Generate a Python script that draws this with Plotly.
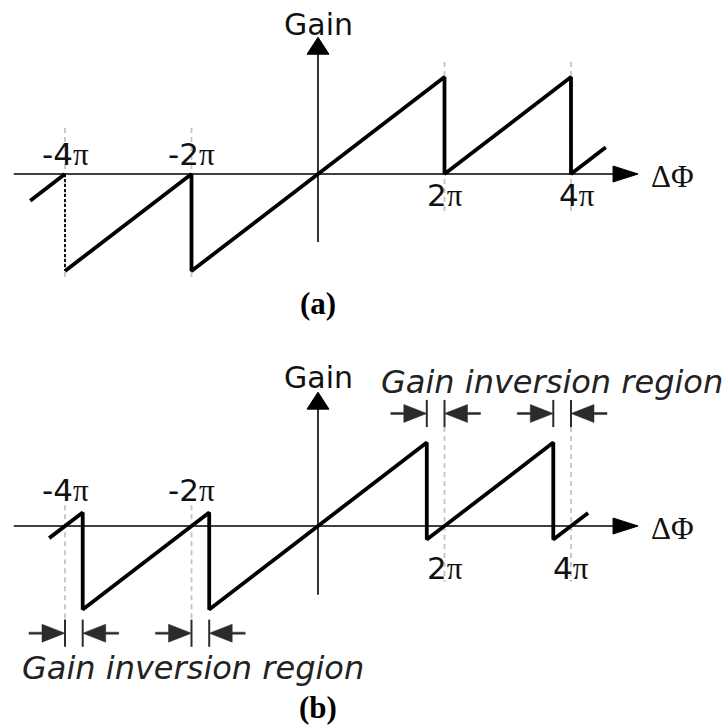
import plotly.graph_objects as go

# ---- sawtooth gain curves (ΔΦ in units of π, gain in the same units) ----
# (a) ideal wrap at multiples of 2π
phi_a_left = [-4.55, -4.0]
gain_a_left = [-0.55, 0.0]
phi_a_main = [-4.0, -2.0, -2.0, 2.0, 2.0, 4.0, 4.0, 4.55]
gain_a_main = [-2.0, 0.0, -2.0, 2.0, 0.0, 2.0, 0.0, 0.55]
phi_a_drop = [-4.0, -4.0]
gain_a_drop = [0.0, -2.0]

# (b) wrap displaced by the gain inversion region
phi_b = [-4.25, -3.72, -3.72, -1.72, -1.72, 1.72, 1.72, 3.72, 3.72, 4.27]
gain_b = [-0.25, 0.28, -1.72, 0.28, -1.72, 1.72, -0.28, 1.72, -0.28, 0.27]

tick_vals = [-4, -2, 2, 4]
tick_text = ["-4", "-2", "2", "4"]

# inversion-region boundaries: (left edge, right edge)
inv_top = [(1.72, 2.0), (3.72, 4.0)]
inv_bottom = [(-4.0, -3.72), (-2.0, -1.72)]

# ---- geometry of the canvas ----
W, H = 723, 727
X0_PX = 318.0
SX = 63.25          # px per unit along ΔΦ
SY = 48.5           # px per unit of gain
YA_PX = 174.0       # baseline of panel (a)
YB_PX = 526.0       # baseline of panel (b)

x_range = [-X0_PX / SX, (W - X0_PX) / SX]
ya_range = [-(H - YA_PX) / SY, YA_PX / SY]
yb_range = [-(H - YB_PX) / SY, YB_PX / SY]

BLACK = "#000000"
DARK = "#2b2b2b"
GRAY = "#c4c4c4"
FONT = "DejaVu Sans"
SERIF = "Liberation Serif"

fig = go.Figure()

line_style = dict(color=BLACK, width=3.8)
fig.add_trace(go.Scatter(x=phi_a_left, y=gain_a_left, mode="lines", line=line_style,
                         xaxis="x", yaxis="y", hoverinfo="skip"))
fig.add_trace(go.Scatter(x=phi_a_main, y=gain_a_main, mode="lines", line=line_style,
                         xaxis="x", yaxis="y", hoverinfo="skip"))
fig.add_trace(go.Scatter(x=phi_a_drop, y=gain_a_drop, mode="lines",
                         line=dict(color=BLACK, width=1.8, dash="3px,2px"),
                         xaxis="x", yaxis="y", hoverinfo="skip"))
fig.add_trace(go.Scatter(x=phi_b, y=gain_b, mode="lines", line=line_style,
                         xaxis="x", yaxis="y2", hoverinfo="skip"))

shapes = []
annotations = []


def vline(x, y0, y1, yref):
    shapes.append(dict(type="line", xref="x", yref=yref, x0=x, x1=x, y0=y0, y1=y1,
                       line=dict(color=GRAY, width=1.8, dash="5px,4px"), layer="below"))


def tick_label(v, t, yref, yshift, xshift=0):
    annotations.append(dict(
        x=v, y=0, xref="x", yref=yref, showarrow=False,
        text=t + '<span style="font-family:Liberation Serif">π</span>',
        xanchor="center", yanchor="middle", yshift=yshift, xshift=xshift,
        font=dict(family=FONT, size=31, color="#111111")))


def axes(yref, x_tip, y_tip, x_start, y_bottom, gain_y):
    # horizontal ΔΦ axis with arrowhead
    shapes.append(dict(type="line", xref="x", yref=yref, x0=x_start, x1=x_tip - 14 / SX,
                       y0=0, y1=0, line=dict(color=BLACK, width=1.6)))
    shapes.append(dict(type="path", xref="x", yref=yref, xsizemode="pixel", ysizemode="pixel",
                       xanchor=x_tip, yanchor=0, path="M0,0 L-25,8 L-25,-8 Z",
                       fillcolor=BLACK, line=dict(color=BLACK, width=1)))
    # vertical Gain axis with arrowhead
    shapes.append(dict(type="line", xref="x", yref=yref, x0=0, x1=0,
                       y0=y_bottom, y1=y_tip - 10 / SY, line=dict(color=BLACK, width=1.6)))
    shapes.append(dict(type="path", xref="x", yref=yref, xsizemode="pixel", ysizemode="pixel",
                       xanchor=0, yanchor=y_tip, path="M0,0 L-11,-17 L11,-17 Z",
                       fillcolor=BLACK, line=dict(color=BLACK, width=1)))
    annotations.append(dict(x=x_tip, y=0, xref="x", yref=yref, text="ΔΦ", showarrow=False,
                            xanchor="left", yanchor="middle", xshift=11, yshift=-2,
                            font=dict(family=SERIF, size=31, color="#111111")))
    annotations.append(dict(x=0, y=gain_y, xref="x", yref=yref, text="Gain", showarrow=False,
                            xanchor="center", yanchor="middle",
                            font=dict(family=FONT, size=30, color="#111111")))


# ---- panel (a) ----
axes("y", 5.06, 2.82, -4.81, -1.40, 3.09)
for v in (-4, -2):
    vline(v, 0.95, -2.19, "y")
for v in (2, 4):
    vline(v, 2.31, -0.80, "y")
for v, t in zip(tick_vals, tick_text):
    if v < 0:
        tick_label(v, t, "y", 20)
    else:
        tick_label(v, t, "y", -21, xshift=6 if v == 4 else 0)
annotations.append(dict(x=0, y=-2.68, xref="x", yref="y", text="<b>(a)</b>", showarrow=False,
                        xanchor="center", yanchor="middle",
                        font=dict(family=SERIF, size=31, color=BLACK)))

# ---- panel (b) ----
axes("y2", 5.06, 2.76, -4.81, -1.42, 3.07)

ARROW_IN_R = "M-36,-1 L-23,-1 L-23,-9 L0,0 L-23,9 L-23,1 L-36,1 Z"
ARROW_IN_L = "M36,-1 L23,-1 L23,-9 L0,0 L23,9 L23,1 L36,1 Z"


def inversion_marks(x_left, x_right, y_mid, half):
    for xx in (x_left, x_right):
        shapes.append(dict(type="line", xref="x", yref="y2", x0=xx, x1=xx,
                           y0=y_mid - half, y1=y_mid + half,
                           line=dict(color=DARK, width=2)))
    shapes.append(dict(type="path", xref="x", yref="y2", xsizemode="pixel", ysizemode="pixel",
                       xanchor=x_left, yanchor=y_mid, path=ARROW_IN_R,
                       fillcolor=DARK, line=dict(color=DARK, width=0.5)))
    shapes.append(dict(type="path", xref="x", yref="y2", xsizemode="pixel", ysizemode="pixel",
                       xanchor=x_right, yanchor=y_mid, path=ARROW_IN_L,
                       fillcolor=DARK, line=dict(color=DARK, width=0.5)))


TOP_Y, BOT_Y, HALF = 2.32, -2.21, 0.28
for x_l, x_r in inv_top:
    inversion_marks(x_l, x_r, TOP_Y, HALF)
    vline(x_r, TOP_Y - HALF, -1.15, "y2")
for x_l, x_r in inv_bottom:
    inversion_marks(x_l, x_r, BOT_Y, HALF)
    vline(x_l, 0.43, BOT_Y + HALF, "y2")

for v, t in zip(tick_vals, tick_text):
    tick_label(v, t, "y2", 36 if v < 0 else -42)

inv_font = dict(family=FONT, size=32, color="#222222", style="italic", weight=300)
annotations.append(dict(x=3.7, y=2.97, xref="x", yref="y2", text="Gain inversion region",
                        showarrow=False, xanchor="center", yanchor="middle", font=inv_font))
annotations.append(dict(x=-1.98, y=-2.93, xref="x", yref="y2", text="Gain inversion region",
                        showarrow=False, xanchor="center", yanchor="middle", font=inv_font))
annotations.append(dict(x=0, y=-3.75, xref="x", yref="y2", text="<b>(b)</b>", showarrow=False,
                        xanchor="center", yanchor="middle",
                        font=dict(family=SERIF, size=31, color=BLACK)))

hidden = dict(visible=False, showgrid=False, zeroline=False, fixedrange=True)
fig.update_layout(
    width=W, height=H, autosize=False,
    margin=dict(l=0, r=0, t=0, b=0),
    paper_bgcolor="white", plot_bgcolor="white",
    showlegend=False,
    xaxis=dict(range=x_range, domain=[0, 1], **hidden),
    yaxis=dict(range=ya_range, domain=[0, 1], **hidden),
    yaxis2=dict(range=yb_range, domain=[0, 1], overlaying="y", **hidden),
    shapes=shapes,
    annotations=annotations,
)

fig.write_html("out.html", config={"displayModeBar": False})
